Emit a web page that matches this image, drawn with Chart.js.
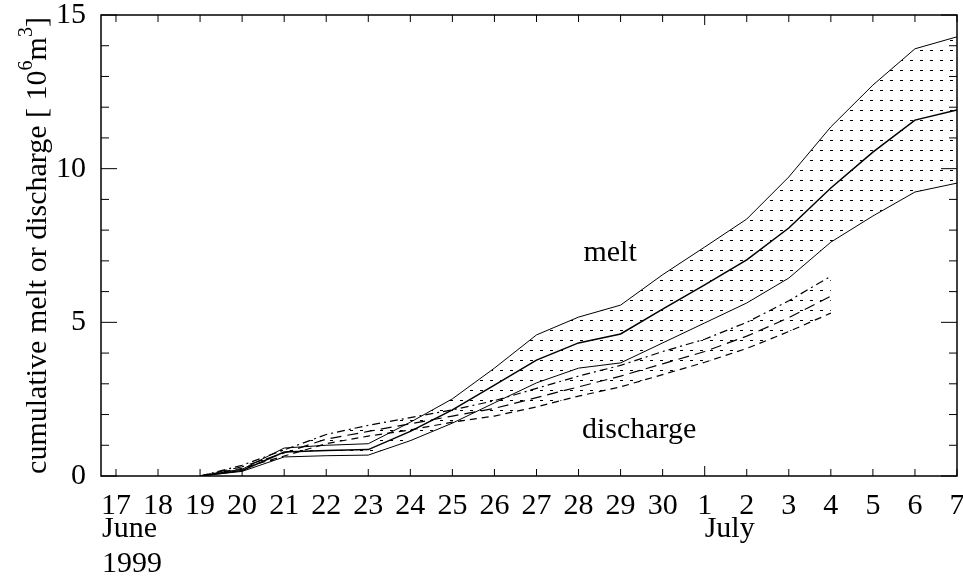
<!DOCTYPE html>
<html>
<head>
<meta charset="utf-8">
<title>cumulative melt or discharge</title>
<script src="https://cdn.jsdelivr.net/npm/chart.js@4/dist/chart.umd.min.js"></script>
<style>
    html, body { margin: 0; padding: 0; background: #fff; }
</style>
</head>
<body>
<canvas id="myChart" width="963" height="576"></canvas>
<script>
'use strict';
// days counted from 1 June, so 31 is 1 July
let meltDays = [19, 20, 21, 22, 23, 24, 25, 26, 27, 28, 29, 30, 31, 32, 33, 34, 35, 36, 37];
let meltUpper = [0, 0.22, 0.91, 1.0, 1.05, 1.75, 2.51, 3.51, 4.59, 5.17, 5.56, 6.55, 7.45, 8.36, 9.73, 11.36, 12.72, 13.9, 14.29];
let meltMiddle = [0, 0.18, 0.78, 0.83, 0.86, 1.45, 2.15, 2.96, 3.77, 4.33, 4.62, 5.43, 6.22, 7.03, 8.07, 9.37, 10.54, 11.58, 11.91];
let meltLower = [0, 0.15, 0.62, 0.66, 0.68, 1.15, 1.72, 2.38, 3.03, 3.51, 3.68, 4.33, 4.98, 5.63, 6.44, 7.61, 8.46, 9.24, 9.53];

let dischargeDays = [19, 20, 21, 22, 23, 24, 25, 26, 27, 28, 29, 30, 31, 32, 33, 34];
let dischargeUpper = [0, 0.35, 0.85, 1.35, 1.65, 1.9, 2.15, 2.45, 2.85, 3.25, 3.6, 4.05, 4.45, 5.0, 5.7, 6.5];
let dischargeMiddle = [0, 0.3, 0.75, 1.2, 1.45, 1.7, 1.95, 2.2, 2.55, 2.9, 3.25, 3.65, 4.05, 4.55, 5.15, 5.85];
let dischargeLower = [0, 0.25, 0.65, 1.05, 1.3, 1.5, 1.75, 1.95, 2.25, 2.6, 2.9, 3.3, 3.7, 4.15, 4.7, 5.3];

let tickDays = [17, 18, 19, 20, 21, 22, 23, 24, 25, 26, 27, 28, 29, 30, 31, 32, 33, 34, 35, 36, 37];
let yTicks = [0, 5, 10, 15];
let serif = '"Liberation Serif", "Times New Roman", serif';

function toPoints(days, values) {
    let pts = [];
    for (let i = 0; i < days.length; i++) {
        pts.push({ x: days[i], y: values[i] });
    }
    return pts;
}

// rows of short dashes used as hatching
function dotPattern() {
    let c = document.createElement('canvas');
    c.width = 10;
    c.height = 10;
    let g = c.getContext('2d');
    g.fillStyle = '#000';
    g.fillRect(0, 0, 3, 1);
    return document.getElementById('myChart').getContext('2d').createPattern(c, 'repeat');
}

let dots = dotPattern();

function line(values, days, dash, width, fill) {
    return {
        data: toPoints(days, values),
        borderColor: '#000',
        borderWidth: width,
        borderDash: dash,
        backgroundColor: dots,
        fill: fill,
        pointRadius: 0,
        tension: 0
    };
}

let framePlugin = {
    id: 'frame',
    afterDraw(chart) {
        let ctx = chart.ctx;
        let a = chart.chartArea;
        let xs = chart.scales.x;
        let ys = chart.scales.y;
        ctx.save();
        ctx.strokeStyle = '#000';
        ctx.lineWidth = 1.5;
        ctx.strokeRect(a.left, a.top, a.right - a.left, a.bottom - a.top);

        ctx.lineWidth = 1;
        ctx.beginPath();
        for (let d of tickDays) {
            let px = xs.getPixelForValue(d);
            let len = d === 31 ? 10 : 7;
            ctx.moveTo(px, a.bottom);
            ctx.lineTo(px, a.bottom - len);
            ctx.moveTo(px, a.top);
            ctx.lineTo(px, a.top + len);
        }
        for (let v = 0; v <= 15; v++) {
            let py = ys.getPixelForValue(v);
            let len = v % 5 === 0 ? 16 : 8;
            ctx.moveTo(a.left, py);
            ctx.lineTo(a.left + len, py);
            ctx.moveTo(a.right, py);
            ctx.lineTo(a.right - len, py);
        }
        ctx.stroke();

        ctx.fillStyle = '#000';
        ctx.font = '30px ' + serif;
        ctx.textBaseline = 'middle';
        ctx.textAlign = 'left';
        ctx.fillText('June', xs.getPixelForValue(17) - 14, a.bottom + 53);
        ctx.fillText('1999', xs.getPixelForValue(17) - 14, a.bottom + 88);
        ctx.fillText('July', xs.getPixelForValue(31), a.bottom + 53);

        ctx.textAlign = 'center';
        ctx.fillText('melt', xs.getPixelForValue(28.75), ys.getPixelForValue(7.26));
        ctx.fillText('discharge', xs.getPixelForValue(29.44), ys.getPixelForValue(1.5));

        // y title with raised 6 and 3
        let big = '30px ' + serif;
        let small = '20px ' + serif;
        let parts = [
            ['cumulative melt or discharge [ 10', big, 0],
            ['6', small, -11],
            ['m', big, 0],
            ['3', small, -11],
            [']', big, 0]
        ];
        let total = 0;
        for (let p of parts) {
            ctx.font = p[1];
            total += ctx.measureText(p[0]).width;
        }
        ctx.translate(38, (a.top + a.bottom) / 2);
        ctx.rotate(-Math.PI / 2);
        ctx.textAlign = 'left';
        let x = -total / 2;
        for (let p of parts) {
            ctx.font = p[1];
            ctx.fillText(p[0], x, p[2]);
            x += ctx.measureText(p[0]).width;
        }
        ctx.restore();
    }
};

Chart.defaults.font.family = serif;
Chart.defaults.color = '#000';

let ctx = document.getElementById('myChart').getContext('2d');
let myChart = new Chart(ctx, {
    type: 'line',
    data: {
        datasets: [
            line(meltUpper, meltDays, [], 1, 2),
            line(meltMiddle, meltDays, [], 1.5, false),
            line(meltLower, meltDays, [], 1, false),
            line(dischargeUpper, dischargeDays, [8, 4, 2, 4], 1.2, 5),
            line(dischargeMiddle, dischargeDays, [11, 6], 1.2, false),
            line(dischargeLower, dischargeDays, [7, 5], 1.2, false)
        ]
    },
    plugins: [framePlugin],
    options: {
        responsive: false,
        animation: false,
        layout: { padding: { top: 15, right: 6, left: 0, bottom: 0 } },
        plugins: {
            legend: { display: false },
            tooltip: { enabled: false }
        },
        scales: {
            x: {
                type: 'linear',
                min: 16.644,
                max: 37,
                grid: { display: false },
                border: { display: false },
                afterBuildTicks: function (s) {
                    s.ticks = tickDays.map(function (d) { return { value: d }; });
                },
                afterFit: function (s) {
                    s.height = 100;
                    s.paddingLeft = 0;
                    s.paddingRight = 0;
                },
                ticks: {
                    autoSkip: false,
                    maxRotation: 0,
                    padding: 4,
                    font: { size: 30 },
                    callback: function (v) { return v > 30 ? v - 30 : v; }
                }
            },
            y: {
                min: 0,
                max: 15,
                grid: { display: false },
                border: { display: false },
                afterBuildTicks: function (s) {
                    s.ticks = yTicks.map(function (v) { return { value: v }; });
                },
                afterFit: function (s) {
                    s.width = 101;
                    s.paddingTop = 0;
                    s.paddingBottom = 0;
                },
                ticks: {
                    padding: 7,
                    font: { size: 30 }
                }
            }
        }
    }
});
</script>
</body>
</html>
